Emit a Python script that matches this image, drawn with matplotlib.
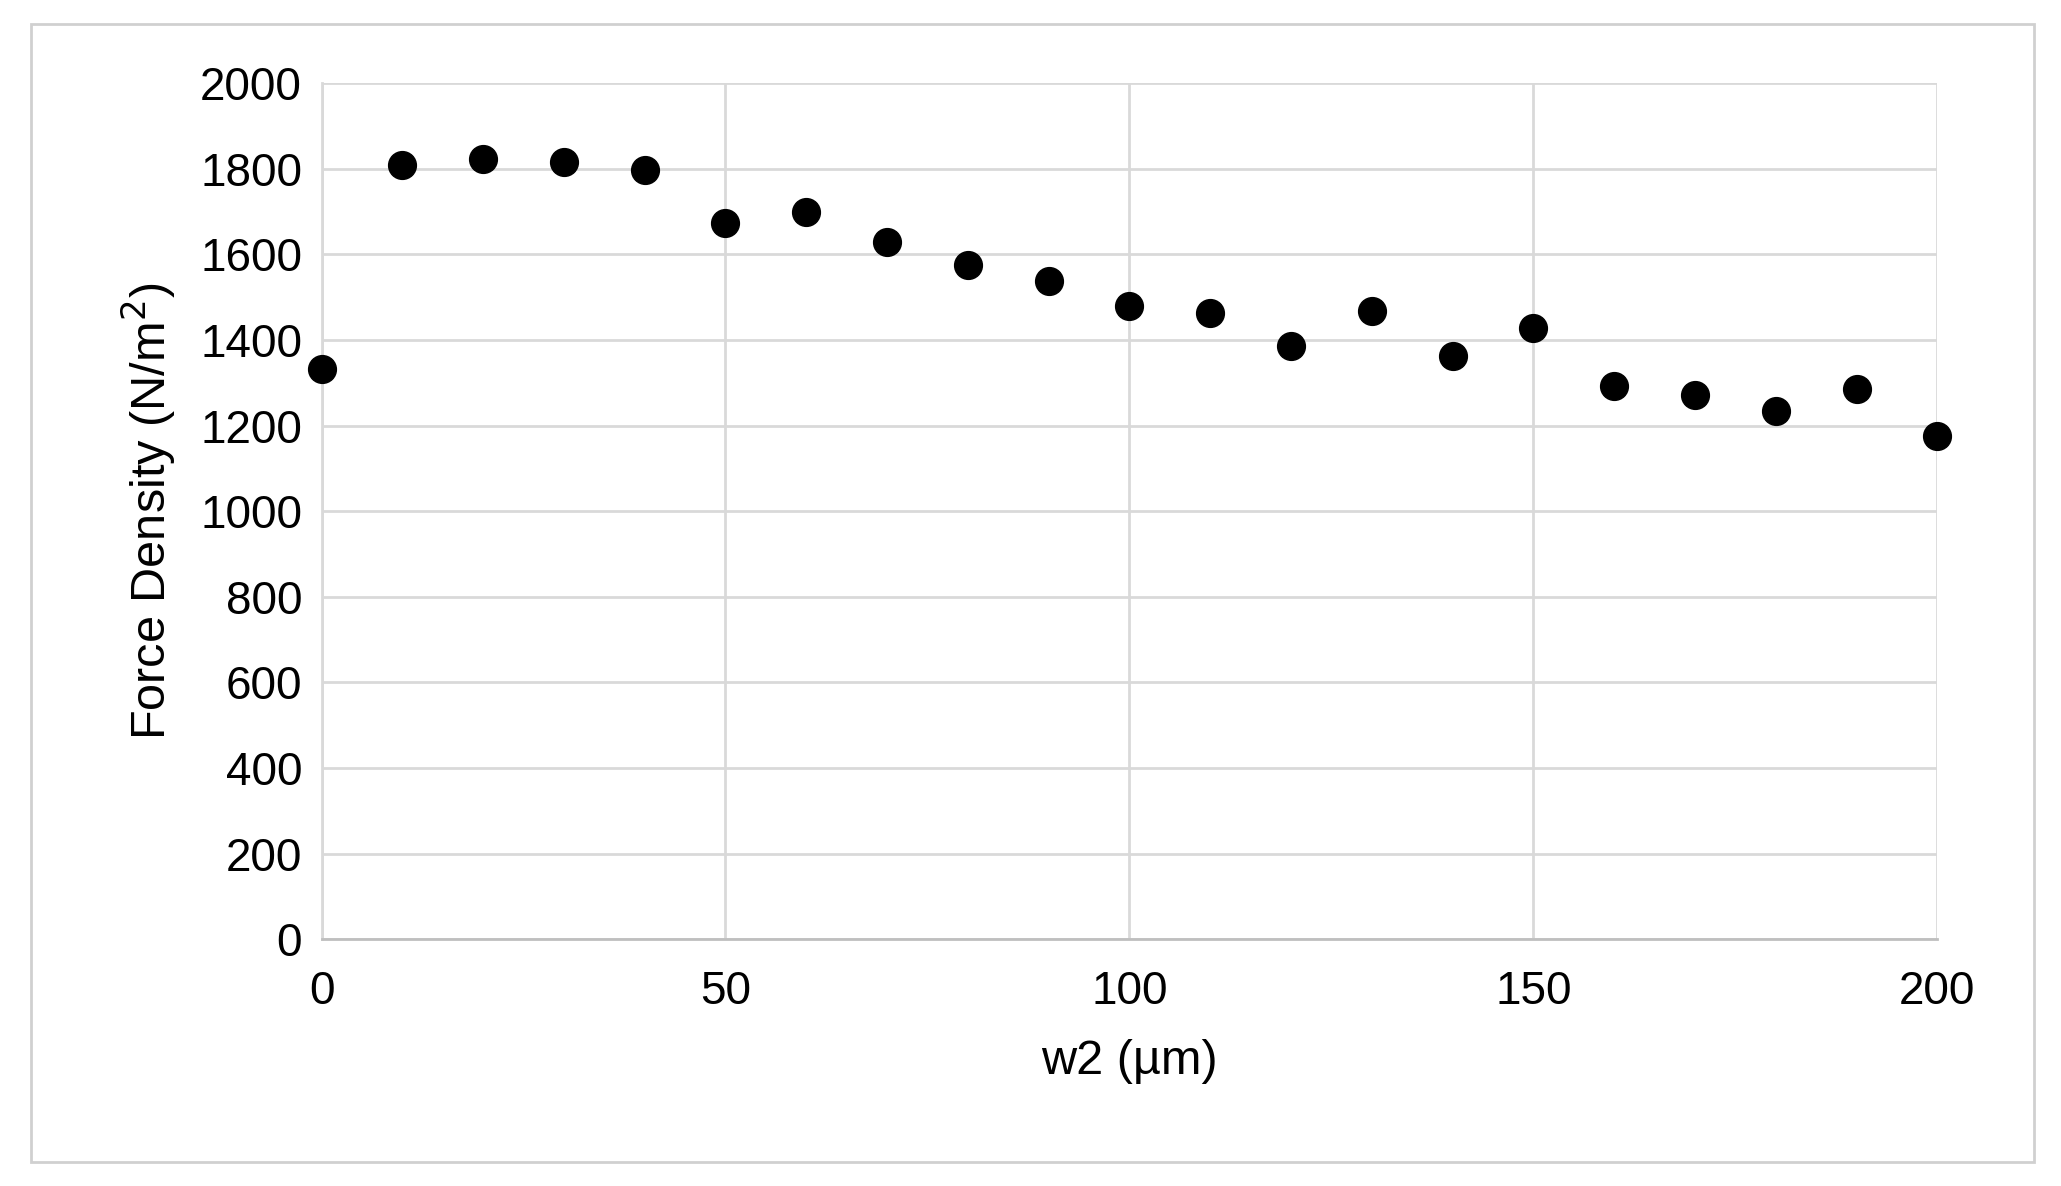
import matplotlib.pyplot as plt
from matplotlib.patches import Rectangle

w2 = [0, 10, 20, 30, 40, 50, 60, 70, 80, 90, 100,
      110, 120, 130, 140, 150, 160, 170, 180, 190, 200]
force = [1332, 1809, 1822, 1815, 1797, 1674, 1698, 1628, 1575, 1538, 1480,
         1462, 1385, 1468, 1363, 1428, 1292, 1271, 1234, 1286, 1175]

plt.rcParams['font.family'] = ['Liberation Sans', 'DejaVu Sans']

fig = plt.figure(figsize=(20.61, 11.86), dpi=100)
fig.patches.append(Rectangle((0.015, 0.02), 0.972, 0.96, transform=fig.transFigure,
                             fill=False, edgecolor='#d0d0d0', linewidth=2))
ax = fig.add_axes([0.156, 0.208, 0.784, 0.722])

ax.plot(w2, force, 'o', color='black', markersize=20, clip_on=False, zorder=3)

ax.set_xlim(0, 200)
ax.set_ylim(0, 2000)
ax.set_xticks(range(0, 201, 50))
ax.set_yticks(range(0, 2001, 200))
ax.grid(True, color='#d9d9d9', linewidth=2)
ax.set_axisbelow(True)
for s in ['top', 'right']:
    ax.spines[s].set_visible(False)
ax.spines['left'].set_color('#d9d9d9')
ax.spines['left'].set_linewidth(2)
ax.spines['bottom'].set_color('#bfbfbf')
ax.spines['bottom'].set_linewidth(2)
ax.tick_params(length=0, labelsize=33, pad=14, colors='#000000')
ax.tick_params(axis='x', pad=22)

ax.set_xlabel('w2 (µm)', fontsize=35, labelpad=18)
ax.set_ylabel('Force Density (N/m$^2$)', fontsize=35, labelpad=16)

fig.savefig('out.png', dpi=100)
